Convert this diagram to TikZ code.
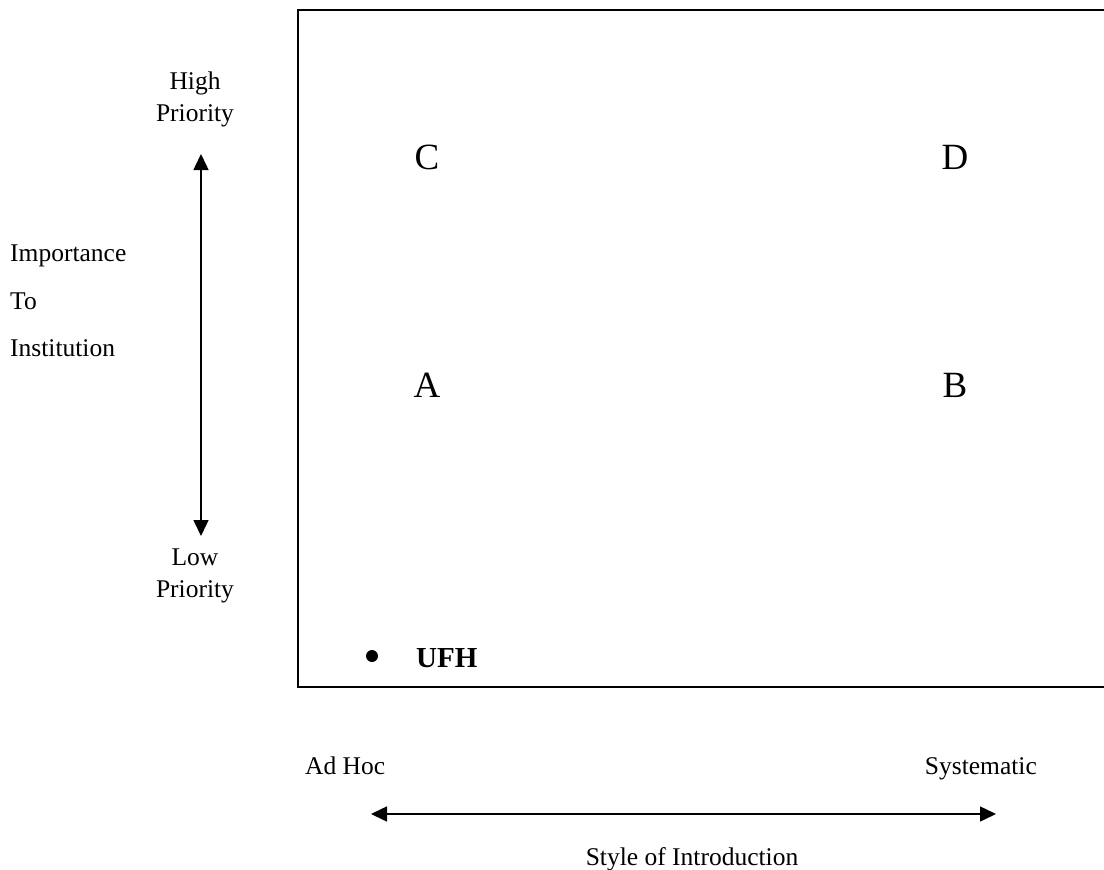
\documentclass[tikz,border=0pt]{standalone}
\usepackage{fontspec}
\setmainfont{Liberation Serif}
\usetikzlibrary{arrows.meta}
\begin{document}
\begin{tikzpicture}[x=1pt,y=-1pt,
  lbl/.style={inner sep=0pt, anchor=base, font=\fontsize{25.5}{32}\selectfont},
  quad/.style={inner sep=0pt, font=\fontsize{37}{44}\selectfont},
  axis/.style={line width=1.5pt, {Triangle[width=15pt,length=16pt]}-{Triangle[width=15pt,length=16pt]}}
]
\useasboundingbox (0,0) rectangle (1104,870);
\clip (0,0) rectangle (1104,870);

% quadrant frame (right side runs past the page edge)
\draw[line width=2pt] (298,10) rectangle (1120,687);

% vertical axis: importance to institution
% (base anchor of a two-line node sits on its last line)
\node[lbl, align=center] (high) at (195,121) {High\\Priority};
\node[lbl, align=center] (low) at (195,597) {Low\\Priority};
\coordinate (vtop) at (201,154);
\coordinate (vbot) at (201,536);
\draw[axis] (vtop) -- (vbot);

\node[lbl, anchor=base west] (imp) at (10,261) {Importance};
\node[lbl, anchor=base west] (to) at (10,309) {To};
\node[lbl, anchor=base west] (inst) at (10,356) {Institution};

% quadrant letters
\node[quad] (C) at (427,157) {C};
\node[quad] (D) at (955,157) {D};
\node[quad] (A) at (427,385) {A};
\node[quad] (B) at (955,385) {B};

% positioned item
\fill (372,656) circle (6pt) coordinate (dot);
\node[lbl, anchor=base west, font=\fontsize{29}{34}\selectfont\bfseries] (ufh) at (416,667) {UFH};

% horizontal axis: style of introduction
\node[lbl, anchor=base west] (adhoc) at (305,774) {Ad Hoc};
\node[lbl, anchor=base east] (sys) at (1037,774) {Systematic};
\coordinate (hleft) at (371,814);
\coordinate (hright) at (996,814);
\draw[axis] (hleft) -- (hright);
\node[lbl] (style) at (692,865) {Style of Introduction};
\end{tikzpicture}
\end{document}
